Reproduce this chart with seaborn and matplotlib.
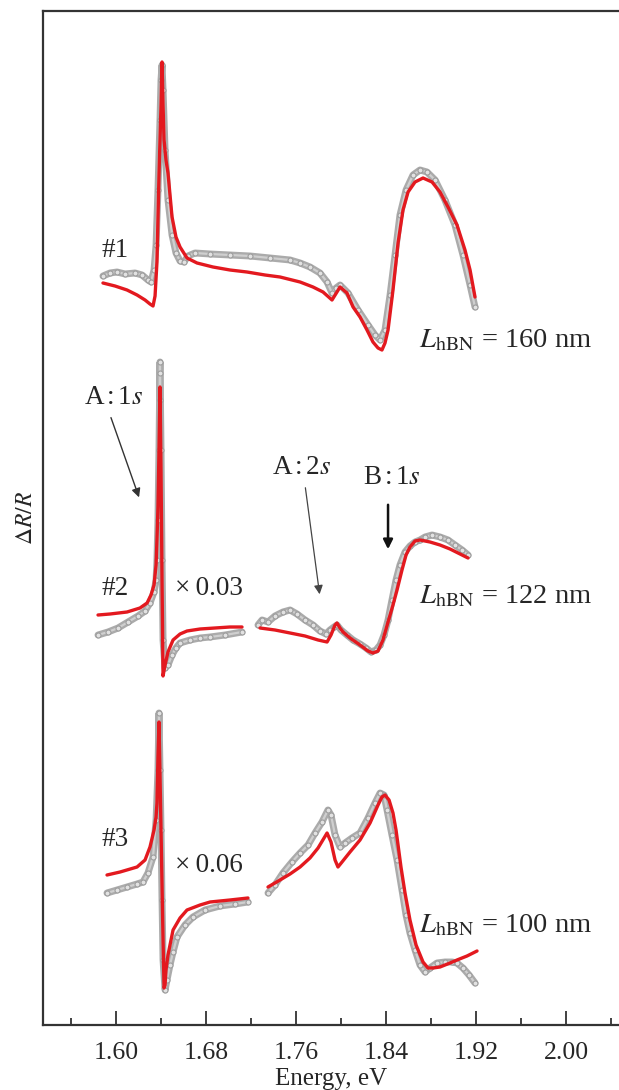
import numpy as np
import pandas as pd
import matplotlib
matplotlib.use("Agg")
import matplotlib.pyplot as plt
import seaborn as sns

# ---------------- data (energy in eV, dR/R in arbitrary offset units) ----------------
# Spectrum #1 (L_hBN = 160 nm)
fit1_E = [1.5884, 1.5991, 1.6098, 1.6187, 1.6258, 1.6302, 1.6329, 1.6347, 1.6364, 1.6382,
          1.6400, 1.6409, 1.6418, 1.6427, 1.6444, 1.6462, 1.6498, 1.6533, 1.6569, 1.6631,
          1.6720, 1.6862, 1.7013, 1.7164, 1.7324, 1.7458, 1.7636, 1.7751, 1.7840, 1.7920,
          1.7964, 1.7991, 1.8053, 1.8107, 1.8169, 1.8231, 1.8284, 1.8329, 1.8364, 1.8391,
          1.8418, 1.8462, 1.8507, 1.8551, 1.8596, 1.8658, 1.8729, 1.8809, 1.8880, 1.8951,
          1.9031, 1.9102, 1.9147, 1.9191]
fit1_R = [7.42, 7.39, 7.35, 7.30, 7.25, 7.21, 7.19, 7.29, 7.63, 8.50,
          9.20, 9.63, 9.20, 8.85, 8.65, 8.52, 8.08, 7.88, 7.78, 7.67,
          7.62, 7.58, 7.55, 7.53, 7.50, 7.48, 7.43, 7.38, 7.33, 7.25,
          7.33, 7.38, 7.32, 7.18, 7.08, 6.95, 6.83, 6.77, 6.75, 6.82,
          6.95, 7.35, 7.82, 8.15, 8.33, 8.43, 8.47, 8.43, 8.33, 8.18,
          8.00, 7.75, 7.55, 7.28]
exp1_E = [1.5884, 1.5947, 1.6009, 1.6080, 1.6169, 1.6231, 1.6284, 1.6311, 1.6338, 1.6356,
          1.6373, 1.6391, 1.6400, 1.6409, 1.6418, 1.6436, 1.6462, 1.6498, 1.6533, 1.6569,
          1.6604, 1.6640, 1.6702, 1.6836, 1.7013, 1.7191, 1.7369, 1.7547, 1.7636, 1.7724,
          1.7813, 1.7876, 1.7920, 1.7956, 1.7991, 1.8062, 1.8151, 1.8240, 1.8302, 1.8347,
          1.8391, 1.8436, 1.8480, 1.8524, 1.8578, 1.8640, 1.8702, 1.8764, 1.8836, 1.8924,
          1.9013, 1.9084, 1.9147, 1.9191]
exp1_R = [7.49, 7.52, 7.53, 7.51, 7.52, 7.50, 7.45, 7.43, 7.55, 7.80,
          8.35, 9.05, 9.45, 9.60, 9.35, 8.75, 8.25, 7.90, 7.72, 7.64,
          7.63, 7.69, 7.72, 7.71, 7.70, 7.69, 7.67, 7.65, 7.62, 7.58,
          7.52, 7.43, 7.32, 7.37, 7.40, 7.32, 7.15, 7.00, 6.90, 6.85,
          6.95, 7.30, 7.70, 8.10, 8.35, 8.50, 8.55, 8.53, 8.45, 8.25,
          8.00, 7.70, 7.40, 7.18]

# Spectrum #2 (L_hBN = 122 nm): A:1s region (x0.03) and higher-energy region
fit2a_E = [1.5840, 1.5947, 1.6098, 1.6213, 1.6276, 1.6311, 1.6338, 1.6356, 1.6364, 1.6373,
           1.6382, 1.6391, 1.6400, 1.6409, 1.6418, 1.6436, 1.6462, 1.6507, 1.6569, 1.6631,
           1.6747, 1.6880, 1.7013, 1.7120]
fit2a_R = [4.10, 4.11, 4.13, 4.17, 4.22, 4.30, 4.40, 4.60, 4.85, 5.18,
           5.75, 6.38, 5.55, 4.45, 3.49, 3.60, 3.73, 3.85, 3.91, 3.94,
           3.96, 3.97, 3.98, 3.98]
exp2a_E = [1.5840, 1.5929, 1.6018, 1.6107, 1.6196, 1.6258, 1.6302, 1.6338, 1.6356, 1.6364,
           1.6373, 1.6382, 1.6387, 1.6389, 1.6391, 1.6400, 1.6409, 1.6418, 1.6436, 1.6462,
           1.6498, 1.6533, 1.6569, 1.6658, 1.6747, 1.6836, 1.6969, 1.7120]
exp2a_R = [3.90, 3.93, 3.97, 4.03, 4.09, 4.14, 4.22, 4.33, 4.45, 4.65,
           5.05, 5.75, 6.25, 6.52, 6.63, 5.75, 4.65, 3.85, 3.57, 3.60,
           3.70, 3.77, 3.82, 3.85, 3.87, 3.88, 3.90, 3.93]
fit2b_E = [1.7280, 1.7413, 1.7547, 1.7680, 1.7796, 1.7876, 1.7911, 1.7947, 1.7964, 1.7991,
           1.8018, 1.8080, 1.8169, 1.8240, 1.8284, 1.8329, 1.8373, 1.8418, 1.8462, 1.8498,
           1.8542, 1.8578, 1.8613, 1.8658, 1.8702, 1.8791, 1.8880, 1.8969, 1.9058, 1.9129]
fit2b_R = [3.97, 3.95, 3.92, 3.89, 3.85, 3.83, 3.90, 4.00, 4.02, 3.97,
           3.93, 3.87, 3.80, 3.74, 3.72, 3.74, 3.85, 4.03, 4.20, 4.35,
           4.55, 4.70, 4.78, 4.84, 4.85, 4.83, 4.80, 4.76, 4.71, 4.67]
exp2b_E = [1.7262, 1.7298, 1.7351, 1.7413, 1.7484, 1.7547, 1.7609, 1.7680, 1.7751, 1.7813,
           1.7867, 1.7902, 1.7938, 1.7964, 1.8000, 1.8053, 1.8107, 1.8169, 1.8222, 1.8267,
           1.8311, 1.8347, 1.8382, 1.8418, 1.8453, 1.8489, 1.8524, 1.8569, 1.8613, 1.8658,
           1.8702, 1.8747, 1.8809, 1.8880, 1.8951, 1.9013, 1.9076, 1.9129]
exp2b_R = [4.00, 4.05, 4.03, 4.09, 4.13, 4.15, 4.11, 4.05, 4.00, 3.94,
           3.91, 3.95, 3.98, 4.00, 3.95, 3.90, 3.85, 3.81, 3.77, 3.73,
           3.75, 3.80, 3.90, 4.05, 4.25, 4.45, 4.60, 4.73, 4.79, 4.83,
           4.85, 4.88, 4.90, 4.88, 4.85, 4.80, 4.75, 4.70]

# Spectrum #3 (L_hBN = 100 nm): A:1s region (x0.06) and higher-energy region
fit3a_E = [1.5920, 1.6036, 1.6187, 1.6258, 1.6302, 1.6338, 1.6356, 1.6364, 1.6373, 1.6382,
           1.6391, 1.6400, 1.6409, 1.6418, 1.6427, 1.6436, 1.6444, 1.6462, 1.6507, 1.6569,
           1.6631, 1.6747, 1.6836, 1.7013, 1.7173]
fit3a_R = [1.50, 1.53, 1.58, 1.65, 1.78, 1.95, 2.08, 2.22, 2.68, 3.03,
           2.50, 1.95, 1.40, 0.85, 0.37, 0.40, 0.55, 0.70, 0.95, 1.07,
           1.15, 1.20, 1.23, 1.25, 1.27]
exp3a_E = [1.5920, 1.6009, 1.6098, 1.6187, 1.6240, 1.6284, 1.6329, 1.6356, 1.6373, 1.6382,
           1.6391, 1.6400, 1.6409, 1.6418, 1.6436, 1.6453, 1.6480, 1.6507, 1.6542, 1.6613,
           1.6684, 1.6791, 1.6924, 1.7058, 1.7173]
exp3a_R = [1.32, 1.35, 1.38, 1.41, 1.43, 1.52, 1.68, 2.05, 2.55, 3.12,
           2.55, 1.95, 1.25, 0.65, 0.35, 0.45, 0.60, 0.73, 0.88, 1.00,
           1.08, 1.15, 1.19, 1.21, 1.23]
fit3b_E = [1.7351, 1.7458, 1.7547, 1.7636, 1.7724, 1.7796, 1.7876, 1.7911, 1.7947, 1.7973,
           1.8009, 1.8080, 1.8169, 1.8258, 1.8329, 1.8364, 1.8391, 1.8427, 1.8462, 1.8489,
           1.8507, 1.8533, 1.8569, 1.8613, 1.8667, 1.8729, 1.8773, 1.8818, 1.8880, 1.8969,
           1.9031, 1.9120, 1.9209]
fit3b_R = [1.38, 1.45, 1.51, 1.58, 1.67, 1.77, 1.92, 1.83, 1.65, 1.58,
           1.63, 1.73, 1.85, 2.02, 2.20, 2.28, 2.30, 2.25, 2.12, 1.95,
           1.80, 1.58, 1.32, 1.05, 0.80, 0.63, 0.57, 0.57, 0.58, 0.62,
           0.65, 0.69, 0.74]
exp3b_E = [1.7351, 1.7413, 1.7484, 1.7564, 1.7636, 1.7707, 1.7769, 1.7831, 1.7884, 1.7911,
           1.7947, 1.7991, 1.8036, 1.8098, 1.8169, 1.8240, 1.8302, 1.8347, 1.8382, 1.8409,
           1.8453, 1.8498, 1.8542, 1.8578, 1.8613, 1.8658, 1.8702, 1.8747, 1.8791, 1.8853,
           1.8924, 1.8987, 1.9031, 1.9084, 1.9138, 1.9191]
exp3b_R = [1.32, 1.40, 1.52, 1.63, 1.72, 1.80, 1.92, 2.03, 2.15, 2.10,
           1.90, 1.78, 1.82, 1.87, 1.92, 2.07, 2.22, 2.32, 2.30, 2.15,
           1.90, 1.65, 1.35, 1.10, 0.92, 0.75, 0.60, 0.53, 0.57, 0.62,
           0.63, 0.63, 0.62, 0.57, 0.50, 0.42]

x_major = [1.60, 1.68, 1.76, 1.84, 1.92, 2.00]
x_minor = [1.56, 1.64, 1.72, 1.80, 1.88, 1.96, 2.04]
x_labels = ["1.60", "1.68", "1.76", "1.84", "1.92", "2.00"]

fits = [(fit1_E, fit1_R), (fit2a_E, fit2a_R), (fit2b_E, fit2b_R),
        (fit3a_E, fit3a_R), (fit3b_E, fit3b_R)]
exps = [(exp1_E, exp1_R), (exp2a_E, exp2a_R), (exp2b_E, exp2b_R),
        (exp3a_E, exp3a_R), (exp3b_E, exp3b_R)]

# ---------------- style ----------------
sns.set_style("ticks")
plt.rcParams["font.family"] = ["Liberation Serif", "DejaVu Serif"]
plt.rcParams["mathtext.fontset"] = "stix"
TXT = "#262626"
RED = "#e3191f"
GRAY = "#9c9c9c"

fig = plt.figure(figsize=(6.19, 10.9), dpi=100)
ax = fig.add_axes([43 / 619, 1 - 1025 / 1090, (619 - 43) / 619, 1014 / 1090])

for E, R in exps:
    sns.lineplot(x=E, y=R, ax=ax, sort=False, estimator=None, color="#ababab",
                 lw=5.0, zorder=1)
    sns.lineplot(x=E, y=R, ax=ax, sort=False, estimator=None, color="#cfcfcf",
                 lw=1.6, zorder=1.5)
    sns.scatterplot(x=E, y=R, ax=ax, marker="o", s=13, facecolors="#e2e2e2",
                    edgecolor=GRAY, linewidth=0.8, zorder=2)
for E, R in fits:
    sns.lineplot(x=E, y=R, ax=ax, sort=False, estimator=None, color=RED,
                 lw=2.4, zorder=3)

ax.set_xlim(1.5351, 2.0471)
ax.set_ylim(0, 10.14)

ax.set_xticks(x_major)
ax.set_xticklabels(x_labels)
ax.set_xticks(x_minor, minor=True)
ax.tick_params(axis="x", which="major", direction="in", length=10, width=1.3,
               colors="#333333", labelcolor=TXT, labelsize=18.5, pad=12)
ax.tick_params(axis="x", which="minor", direction="in", length=5, width=1.3,
               colors="#333333")
ax.tick_params(axis="y", left=False, labelleft=False)
for s in ["left", "bottom", "top"]:
    ax.spines[s].set_linewidth(1.6)
    ax.spines[s].set_color("#333333")
ax.spines["right"].set_visible(False)

ax.set_xlabel("Energy, eV", fontsize=18, color=TXT, labelpad=3)
ax.set_ylabel(r"$\Delta R/R$", fontsize=17, color=TXT, labelpad=4)

fs = 19.5
fl = 20.5
ax.text(1.599, 7.75, "#1", fontsize=fs, color=TXT, ha="center", va="center")
ax.text(1.599, 4.37, "#2", fontsize=fs, color=TXT, ha="center", va="center")
ax.text(1.599, 1.85, "#3", fontsize=fs, color=TXT, ha="center", va="center")
ax.text(1.683, 4.37, "×\u20090.03", fontsize=fs, color=TXT, ha="center", va="center")
ax.text(1.683, 1.60, "×\u20090.06", fontsize=fs, color=TXT, ha="center", va="center")
ax.text(1.869, 6.78, r"$L_{\mathrm{hBN}}$ = 160 nm", fontsize=fl, color=TXT,
        ha="left", va="baseline")
ax.text(1.869, 4.22, r"$L_{\mathrm{hBN}}$ = 122 nm", fontsize=fl, color=TXT,
        ha="left", va="baseline")
ax.text(1.869, 0.93, r"$L_{\mathrm{hBN}}$ = 100 nm", fontsize=fl, color=TXT,
        ha="left", va="baseline")

ax.text(1.598, 6.28, r"A$\,$:$\,$1$\mathit{s}$", fontsize=fs, color=TXT, ha="center", va="center")
ax.annotate("", xy=(1.6213, 5.25), xytext=(1.5947, 6.10),
            arrowprops=dict(arrowstyle="-|>", color="#333333", lw=1.0, mutation_scale=13))
ax.text(1.765, 5.58, r"A$\,$:$\,$2$\mathit{s}$", fontsize=fs, color=TXT, ha="center", va="center")
ax.annotate("", xy=(1.7813, 4.28), xytext=(1.7680, 5.40),
            arrowprops=dict(arrowstyle="-|>", color="#444444", lw=0.9, mutation_scale=13))
ax.text(1.845, 5.48, r"B$\,$:$\,$1$\mathit{s}$", fontsize=fs, color=TXT, ha="center", va="center")
ax.annotate("", xy=(1.8418, 4.73), xytext=(1.8418, 5.23),
            arrowprops=dict(arrowstyle="-|>", color="#111111", lw=1.8, mutation_scale=14))

fig.savefig("out.png", dpi=100)
